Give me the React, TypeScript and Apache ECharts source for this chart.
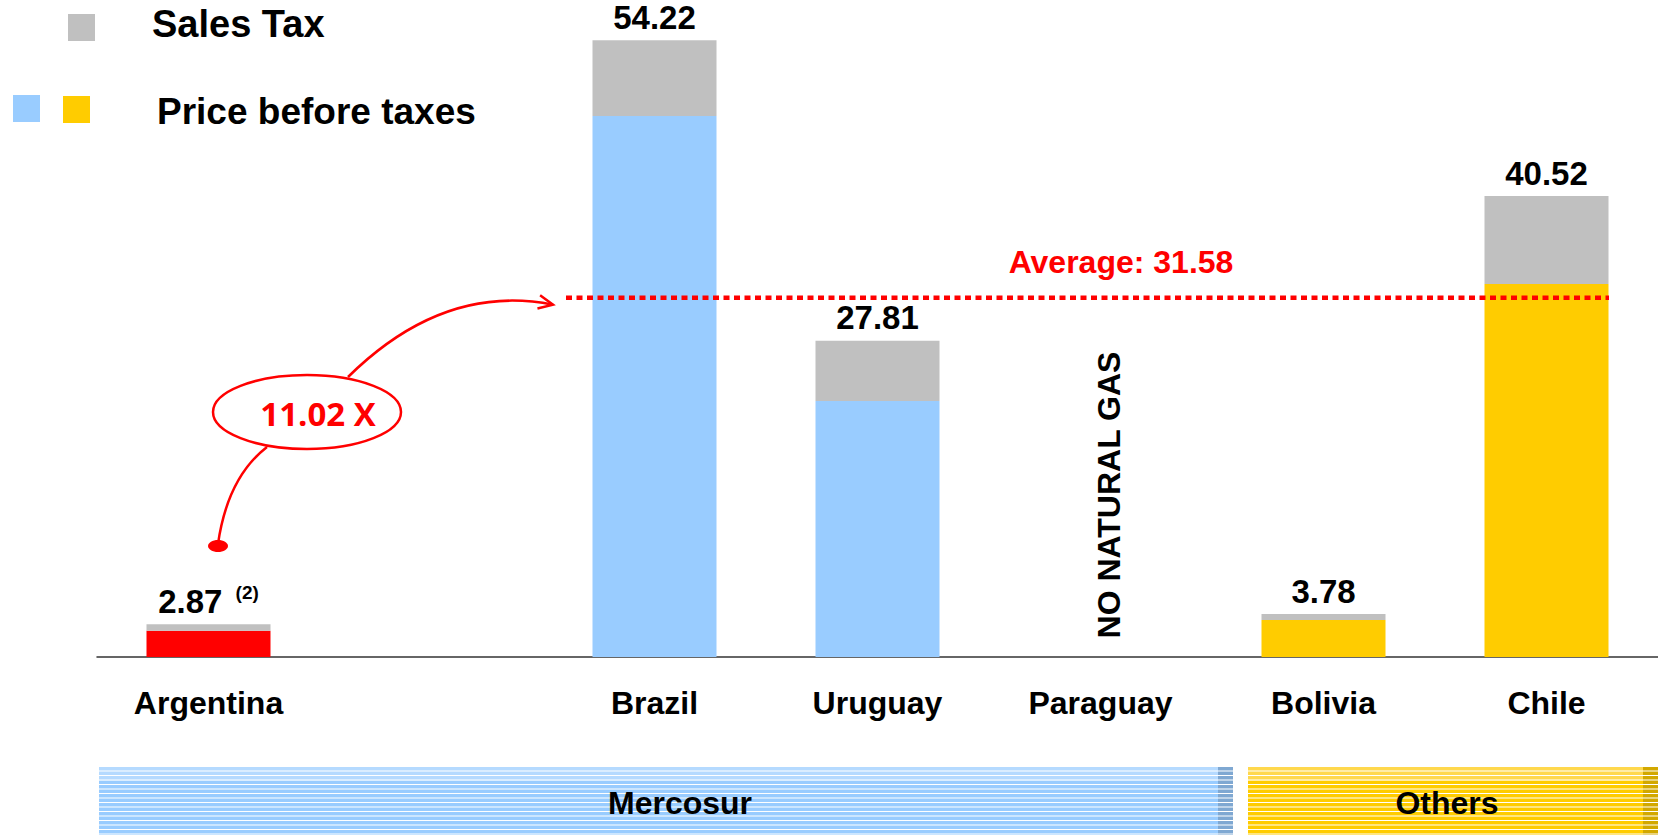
import React, { useEffect, useRef } from "react";
import * as echarts from "echarts";

const FONT = "'Liberation Sans', Arial, Helvetica, sans-serif";

const categories = ["Argentina", "", "Brazil", "Uruguay", "Paraguay", "Bolivia", "Chile"];
const totals: (number | null)[] = [2.87, null, 54.22, 27.81, null, 3.78, 40.52];
const priceBeforeTaxes: (number | null)[] = [2.3, null, 47.55, 22.5, null, 3.25, 32.8];
const salesTax: (number | null)[] = [0.57, null, 6.67, 5.31, null, 0.53, 7.72];
const priceColors = ["#FF0000", "#99CCFF", "#99CCFF", "#99CCFF", "#99CCFF", "#FFCC00", "#FFCC00"];
const average = 31.58;
const ratioText = "11.02 X";
const noDataCategory = "Paraguay";
const noDataText = "NO NATURAL GAS";
const groups = [
  { name: "Mercosur", x0: 99, x1: 1233, color: "#99CCFF", light: "#B5DAFF", edge: "#7FA8D2", labelX: 680 },
  { name: "Others", x0: 1248, x1: 1658, color: "#FFCC00", light: "#FFD84D", edge: "#D2A800", labelX: 1447 },
];

function stripes(x0: number, x1: number, color: string, light: string, edge: string) {
  const els: any[] = [];
  const top = 767;
  const bottom = 835;
  els.push({ type: "rect", shape: { x: x0, y: top, width: x1 - x0, height: bottom - top }, style: { fill: color }, z: 1 });
  els.push({ type: "rect", shape: { x: x0, y: top, width: x1 - x0, height: 14 }, style: { fill: light }, z: 1 });
  els.push({ type: "rect", shape: { x: x1 - 15, y: top, width: 15, height: bottom - top }, style: { fill: edge }, z: 1 });
  for (let y = top + 3.5; y < bottom; y += 4.5) {
    els.push({ type: "rect", shape: { x: x0, y, width: x1 - x0, height: 1 }, style: { fill: "#FFFFFF" }, z: 2 });
  }
  return els;
}

export default function App() {
  const ref = useRef<HTMLDivElement>(null);
  useEffect(() => {
    if (!ref.current) return;
    const chart = echarts.init(ref.current, null, { renderer: "svg" });
    const option: any = {
      animation: false,
      grid: { left: 97, right: 0, top: 20, bottom: 178 },
      xAxis: {
        type: "category",
        data: categories,
        axisTick: { show: false },
        axisLine: { lineStyle: { color: "#333", width: 1.5 } },
        axisLabel: { interval: 0, fontSize: 32, fontWeight: "bold", color: "#000", margin: 30, fontFamily: FONT },
      },
      yAxis: { type: "value", min: 0, max: 56, show: false },
      series: [
        {
          name: "Price before taxes",
          type: "bar",
          stack: "total",
          barWidth: 124,
          data: priceBeforeTaxes.map((v, i) => (v == null ? "-" : { value: v, itemStyle: { color: priceColors[i] } })),
        },
        {
          name: "Sales Tax",
          type: "bar",
          stack: "total",
          barWidth: 124,
          itemStyle: { color: "#C0C0C0" },
          data: salesTax.map((v) => (v == null ? "-" : v)),
          label: {
            show: true,
            position: "top",
            distance: 5,
            fontFamily: FONT,
            fontSize: 33,
            fontWeight: "bold",
            color: "#000",
            formatter: (p: any) => {
              const t = totals[p.dataIndex];
              if (t == null) return "";
              if (p.dataIndex === 0) return `{v|${t.toFixed(2)}} {s|(2)}`;
              return `{v|${t.toFixed(2)}}`;
            },
            rich: {
              v: { fontFamily: FONT, fontSize: 33, fontWeight: "bold", color: "#000", lineHeight: 36 },
              s: { fontFamily: FONT, fontSize: 19, fontWeight: "bold", color: "#000", verticalAlign: "top", lineHeight: 20, padding: [0, 0, 0, 4] },
            },
          },
        },
      ],
    };
    chart.setOption(option);

    const avgY = chart.convertToPixel({ yAxisIndex: 0 }, average) as number;
    const parX = chart.convertToPixel({ xAxisIndex: 0 }, noDataCategory) as number;

    const tip = [553, avgY + 7];
    const ctrl = [443.5, avgY - 15];
    const dx = tip[0] - ctrl[0];
    const dy = tip[1] - ctrl[1];
    const len = Math.hypot(dx, dy);
    const bx = -dx / len;
    const by = -dy / len;
    const a = (25 * Math.PI) / 180;
    const c = Math.cos(a);
    const s = Math.sin(a);
    const L = 16;
    const h1 = [tip[0] + L * (bx * c - by * s), tip[1] + L * (bx * s + by * c)];
    const h2 = [tip[0] + L * (bx * c + by * s), tip[1] + L * (-bx * s + by * c)];

    const graphics: any[] = [
      { type: "rect", shape: { x: 68, y: 14, width: 27, height: 27 }, style: { fill: "#C0C0C0" } },
      { type: "text", x: 152, y: 24, style: { text: "Sales Tax", font: `bold 38px ${FONT}`, fill: "#000", verticalAlign: "middle" } },
      { type: "rect", shape: { x: 13, y: 95, width: 27, height: 27 }, style: { fill: "#99CCFF" } },
      { type: "rect", shape: { x: 63, y: 96, width: 27, height: 27 }, style: { fill: "#FFCC00" } },
      { type: "text", x: 157, y: 111, style: { text: "Price before taxes", font: `bold 37px ${FONT}`, fill: "#000", verticalAlign: "middle" } },
      { type: "line", shape: { x1: 566, y1: avgY, x2: 1609, y2: avgY }, style: { stroke: "#FF0000", lineWidth: 4.5, lineDash: [6, 4.5] }, z: 10 },
      { type: "text", x: 1121, y: avgY - 36, style: { text: `Average: ${average.toFixed(2)}`, font: `bold 32px ${FONT}`, fill: "#FF0000", align: "center", verticalAlign: "middle" }, z: 10 },
      { type: "ellipse", shape: { cx: 307, cy: 412, rx: 94, ry: 37 }, style: { fill: "none", stroke: "#FF0000", lineWidth: 2.5 }, z: 10 },
      { type: "text", x: 318, y: 413, style: { text: ratioText, font: `bold 33px 'Open Sans', ${FONT}`, fill: "#FF0000", align: "center", verticalAlign: "middle" }, z: 10 },
      { type: "bezierCurve", shape: { x1: 348, y1: 377, x2: tip[0], y2: tip[1], cpx1: ctrl[0], cpy1: ctrl[1] }, style: { stroke: "#FF0000", lineWidth: 2.5, fill: "none" }, z: 10 },
      { type: "polyline", shape: { points: [h1, tip, h2] }, style: { stroke: "#FF0000", lineWidth: 2.5, fill: "none" }, z: 10 },
      { type: "bezierCurve", shape: { x1: 267, y1: 447, x2: 218, y2: 544, cpx1: 227.5, cpy1: 477.5 }, style: { stroke: "#FF0000", lineWidth: 2.5, fill: "none" }, z: 10 },
      { type: "ellipse", shape: { cx: 218, cy: 546, rx: 10, ry: 6 }, style: { fill: "#FF0000" }, z: 10 },
      { type: "text", x: parX + 8, y: 495, rotation: Math.PI / 2, style: { text: noDataText, font: `bold 32px ${FONT}`, fill: "#000", align: "center", verticalAlign: "middle" }, z: 10 },
    ];
    groups.forEach((g) => {
      graphics.push(...stripes(g.x0, g.x1, g.color, g.light, g.edge));
      graphics.push({ type: "text", x: g.labelX, y: 803, style: { text: g.name, font: `bold 32px ${FONT}`, fill: "#000", align: "center", verticalAlign: "middle" }, z: 5 });
    });
    chart.setOption({ graphic: graphics });
    return () => chart.dispose();
  }, []);
  return <div ref={ref} style={{ position: "absolute", left: 0, top: 0, width: 1658, height: 835 }} />;
}
